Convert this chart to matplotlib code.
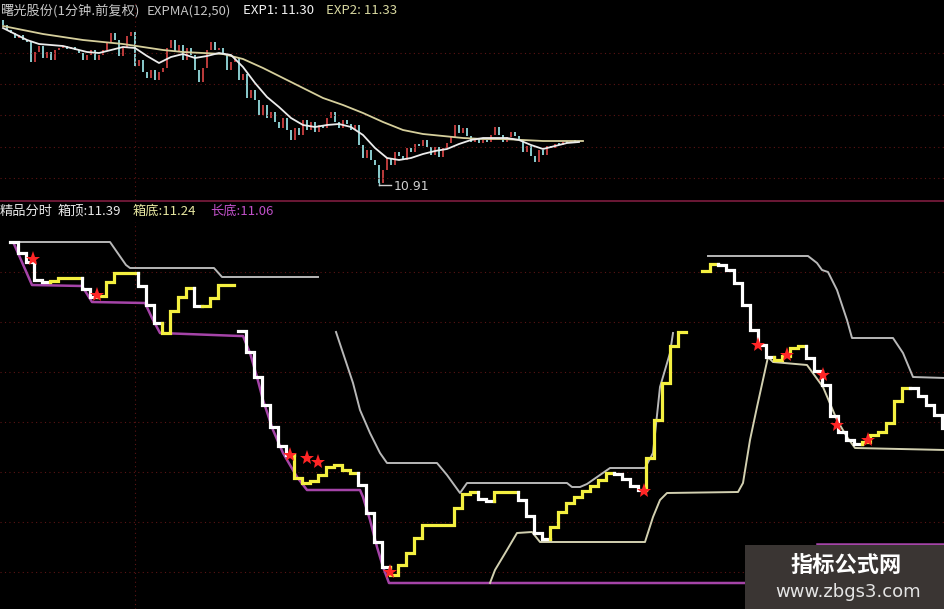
import matplotlib
matplotlib.use("Agg")
import matplotlib.pyplot as plt
import numpy as np
from matplotlib.patches import Rectangle

plt.rcParams['font.family'] = ['Noto Sans CJK SC', 'DejaVu Sans']

# ---------------- top panel: 1 minute candles + EXPMA(12,50)
first_open = 12.56
close = [12.51, 12.46, 12.43, 12.38, 12.41, 12.36, 12.34, 12.14, 12.24, 12.30,
         12.18, 12.24, 12.16, 12.26, 12.28, 12.30, 12.27, 12.29, 12.26, 12.23,
         12.16, 12.21, 12.26, 12.16, 12.21, 12.26, 12.34, 12.43, 12.36, 12.20,
         12.28, 12.40, 12.44, 12.10, 12.16, 12.04, 11.98, 12.06, 11.96, 12.04,
         12.08, 12.28, 12.36, 12.24, 12.31, 12.16, 12.28, 12.21, 12.06, 11.94,
         12.08, 12.26, 12.34, 12.26, 12.28, 12.21, 12.06, 12.14, 12.18, 11.96,
         12.02, 11.78, 11.86, 11.76, 11.61, 11.71, 11.58, 11.64, 11.54, 11.48,
         11.58, 11.46, 11.36, 11.48, 11.41, 11.56, 11.46, 11.54, 11.44, 11.51,
         11.48, 11.58, 11.64, 11.54, 11.48, 11.56, 11.52, 11.46, 11.51, 11.31,
         11.18, 11.26, 11.16, 11.11, 10.93, 11.06, 11.18, 11.11, 11.24, 11.20,
         11.16, 11.28, 11.24, 11.32, 11.30, 11.36, 11.29, 11.21, 11.29, 11.19,
         11.28, 11.33, 11.39, 11.51, 11.43, 11.48, 11.40, 11.34, 11.38, 11.33,
         11.36, 11.34, 11.41, 11.49, 11.41, 11.34, 11.39, 11.44, 11.40, 11.36,
         11.24, 11.30, 11.20, 11.14, 11.26, 11.21, 11.30, 11.28, 11.32, 11.31,
         11.34, 11.33, 11.35, 11.34]

exp1_idx = list(range(0, 145, 3))
exp1 = [12.48, 12.42, 12.36, 12.32, 12.31, 12.30, 12.27, 12.24, 12.23, 12.26,
        12.29, 12.28, 12.20, 12.13, 12.19, 12.22, 12.18, 12.20, 12.23, 12.21,
        12.09, 11.93, 11.79, 11.69, 11.58, 11.51, 11.49, 11.51, 11.52, 11.49,
        11.41, 11.28, 11.18, 11.16, 11.18, 11.22, 11.25, 11.27, 11.32, 11.36,
        11.38, 11.38, 11.38, 11.36, 11.31, 11.27, 11.30, 11.33, 11.34]
exp2_idx = list(range(0, 146, 5))
exp2 = [12.50, 12.46, 12.42, 12.39, 12.36, 12.34, 12.32, 12.29, 12.26, 12.24,
        12.23, 12.22, 12.17, 12.08, 11.98, 11.88, 11.78, 11.71, 11.63, 11.54,
        11.46, 11.42, 11.40, 11.38, 11.37, 11.37, 11.36, 11.35, 11.35, 11.35]

low_idx, low_val = 94, 10.91
top_grid = [12.23, 11.92, 11.61, 11.29, 10.98]

# ---------------- bottom panel: 精品分时 (2-minute samples)
seg1_start, seg2_start, seg3_start = 1, 58, 174
seg1 = [11.660, 11.638, 11.620, 11.584, 11.580, 11.582, 11.588, 11.588, 11.588, 11.566,
        11.550, 11.552, 11.580, 11.598, 11.598, 11.598, 11.572, 11.534, 11.498, 11.478,
        11.522, 11.550, 11.568, 11.532, 11.532, 11.548, 11.574, 11.574]
seg2 = [11.482, 11.440, 11.390, 11.334, 11.290, 11.252, 11.234, 11.188, 11.178, 11.182,
        11.194, 11.210, 11.214, 11.204, 11.198, 11.174, 11.118, 11.060, 11.010, 10.994,
        11.014, 11.038, 11.068, 11.094, 11.094, 11.094, 11.094, 11.128, 11.156, 11.160,
        11.146, 11.142, 11.160, 11.160, 11.160, 11.144, 11.112, 11.078, 11.066, 11.090,
        11.120, 11.138, 11.150, 11.162, 11.172, 11.184, 11.198, 11.196, 11.186, 11.172,
        11.164, 11.228, 11.304, 11.378, 11.452, 11.480]
seg3 = [11.602, 11.616, 11.614, 11.604, 11.578, 11.534, 11.484, 11.454, 11.430, 11.424,
        11.432, 11.448, 11.452, 11.428, 11.402, 11.374, 11.312, 11.280, 11.264, 11.256,
        11.260, 11.274, 11.280, 11.298, 11.342, 11.368, 11.368, 11.352, 11.334, 11.314,
        11.288]
# minutes where the line is in its rising (yellow) state
rising = [(10.5, 17), (22.5, 31.25), (39, 45.5), (48, 55), (72, 87), (96, 116),
          (121, 126), (134.5, 150.75), (158.5, 168), (173.5, 177), (190.75, 198),
          (213.25, 225)]

# 箱顶
top1_t = [1, 25, 29, 30, 51, 53, 77]
top1_v = [11.660, 11.660, 11.614, 11.608, 11.608, 11.590, 11.590]
top2_t = [81.5, 83.25, 85.75, 87.5, 90, 92.5, 94.25, 106.75, 109.25, 112.5, 114.25,
          139.25, 140.5, 142.5, 144.25, 150, 158.75, 160.75, 162.5, 165, 165.75]
top2_v = [11.480, 11.438, 11.378, 11.324, 11.278, 11.238, 11.218, 11.218, 11.194, 11.158,
          11.178, 11.178, 11.170, 11.170, 11.176, 11.208, 11.208, 11.238, 11.370, 11.438, 11.478]
top3_t = [174.5, 199.5, 201.75, 203, 204.5, 206.75, 209.25, 210.5, 220.75, 223.25, 225.75, 233.75]
top3_v = [11.632, 11.632, 11.618, 11.604, 11.600, 11.564, 11.504, 11.468, 11.468, 11.438,
          11.390, 11.388]
# 箱底
bot_t = [120, 121.25, 124.25, 126.75, 130.5, 132.5, 158.75, 160.75, 162.5, 164.25, 182,
         183.25, 185, 186.75, 189.5, 190.75, 199.25, 203.25, 206.75, 209.25, 211.25, 233.75]
bot_v = [10.978, 11.004, 11.044, 11.078, 11.080, 11.060, 11.060, 11.110, 11.144, 11.158,
         11.160, 11.178, 11.264, 11.330, 11.430, 11.420, 11.414, 11.370, 11.304, 11.270,
         11.248, 11.244]
# 长底
long1_t = [1, 5.5, 18, 20.5, 33.75, 35.5, 37.5, 57.5, 58.25, 60, 61.75, 63.25, 65.75,
           68.25, 71.75, 74.25, 87.5, 88.25, 90, 91.75, 93.25, 94.75, 184.25]
long1_v = [11.656, 11.574, 11.572, 11.540, 11.538, 11.508, 11.478, 11.472, 11.472, 11.438,
           11.390, 11.344, 11.284, 11.238, 11.190, 11.164, 11.164, 11.150, 11.104, 11.050,
           11.010, 10.978, 10.978]
long2_t = [201.75, 233.75]
long2_v = [11.056, 11.056]

star_t = [5.75, 21.75, 70, 74.25, 77, 95, 158.5, 187, 194.25, 203.25, 206.75, 214.5]
star_v = [11.626, 11.554, 11.234, 11.228, 11.220, 11.000, 11.162, 11.454, 11.434, 11.394,
          11.294, 11.264]
bot_grid = [11.6, 11.5, 11.4, 11.3, 11.2, 11.1, 11.0]

W, H = 945, 609
BG = 'black'
GRID = '#5c1414'
WHITE = '#ffffff'
YELLOW = '#f4f040'

fig = plt.figure(figsize=(W / 100, H / 100), dpi=100, facecolor=BG)

# ---- top axes
ax1 = fig.add_axes([0, 1 - 200 / H, 1, 200 / H], facecolor=BG)
ax1.set_xlim(-0.75, 235.5)
ax1.set_ylim(10.76, 12.76)
ax1.axis('off')
for g in top_grid:
    ax1.axhline(g, color=GRID, lw=0.8, ls=(0, (1, 3)))
ax1.axvline(33, color=GRID, lw=0.8, ls=(0, (1, 3)))

opens = [first_open] + close[:-1]
for i, (o, c) in enumerate(zip(opens, close)):
    col = '#b83a3a' if c > o else '#86c6c8'
    ax1.bar(i, max(abs(c - o), 0.015), bottom=min(o, c), width=0.7, color=col, lw=0)

ax1.plot(exp2_idx, exp2, color='#d6cf9c', lw=1.3)
ax1.plot(exp1_idx, exp1, color='#ececec', lw=1.3)

ax1.plot([low_idx, low_idx], [min(opens[low_idx], close[low_idx]), low_val], color='#86c6c8', lw=1)
ax1.plot([low_idx, low_idx + 3], [low_val, low_val], color='#d0d0d0', lw=1)
ax1.text(low_idx + 3.6, low_val - 0.02, '10.91', color='#d0d0d0', fontsize=9, va='center',
         family='DejaVu Sans')

# ---- bottom axes
ax2 = fig.add_axes([0, 0, 1, (H - 222) / H], facecolor=BG)
ax2.set_xlim(-2.5, 233.75)
ax2.set_ylim(10.926, 11.700)
ax2.axis('off')
for g in bot_grid:
    ax2.axhline(g, color=GRID, lw=0.8, ls=(0, (1, 3)))
ax2.axvline(31.25, color=GRID, lw=0.8, ls=(0, (1, 3)))

ax2.plot(long1_t, long1_v, color='#a544a8', lw=1.8)
ax2.plot(long2_t, long2_v, color='#a544a8', lw=1.8)
for tt, vv in [(top1_t, top1_v), (top2_t, top2_v), (top3_t, top3_v)]:
    ax2.plot(tt, vv, color='#b8b8b8', lw=1.4)
ax2.plot(bot_t, bot_v, color='#d2d0b0', lw=1.4)


def draw_stair(ax, start, vals):
    t = start + 2 * np.arange(len(vals))
    up = [any(a <= ti <= b for a, b in rising) for ti in t]
    i = 0
    while i < len(vals):
        j = i
        while j + 1 < len(vals) and up[j + 1] == up[i]:
            j += 1
        xs, ys = [], []
        for k in range(i, j + 1):
            prev = vals[k - 1] if k > 0 else vals[k]
            xs += [t[k] - 1, t[k] - 1, t[k] + 1]
            ys += [prev, vals[k], vals[k]]
        ax.plot(xs, ys, color=YELLOW if up[i] else WHITE, lw=2.3,
                solid_joinstyle='miter', solid_capstyle='projecting')
        i = j + 1


draw_stair(ax2, seg1_start, seg1)
draw_stair(ax2, seg2_start, seg2)
draw_stair(ax2, seg3_start, seg3)

ax2.plot(star_t, star_v, ls='none', marker='*', ms=11, color='#ff2626', mew=0)

# ---- separator line and headers
sep_y = 1 - 201 / H
fig.add_artist(plt.Line2D([0, 1], [sep_y, sep_y], transform=fig.transFigure,
                          color='#741a3a', lw=1.3))


def ftext(x, y, s, color, size=9.5, **kw):
    fig.text(x / W, 1 - y / H, s, color=color, fontsize=size, va='center', ha='left', **kw)


ftext(0, 11, '曙光股份(1分钟.前复权)', '#c8c8c8')
ftext(147, 11, 'EXPMA(12,50)', '#c4c4c4')
ftext(243, 11, 'EXP1: 11.30', '#f2f2f2')
ftext(326, 11, 'EXP2: 11.33', '#d8d8a0')

ftext(0, 211, '精品分时', '#e8e8e8')
ftext(58, 211, '箱顶:11.39', '#e8e8e8')
ftext(133, 211, '箱底:11.24', '#e6e6a0')
ftext(210, 211, '长底:11.06', '#c050c8')

# ---- watermark
fig.add_artist(Rectangle((745 / W, 0), 200 / W, 64 / H, transform=fig.transFigure,
                         facecolor='#3a3533', edgecolor='none', zorder=5))
fig.text(846 / W, 1 - 565 / H, '指标公式网', color='white', fontsize=16, fontweight='bold',
         ha='center', va='center', zorder=6)
fig.text(848 / W, 1 - 592 / H, 'www.zbgs3.com', color='#e4e4e4', fontsize=13,
         ha='center', va='center', zorder=6, family='DejaVu Sans')

fig.savefig('out.png', dpi=100, facecolor=BG)
